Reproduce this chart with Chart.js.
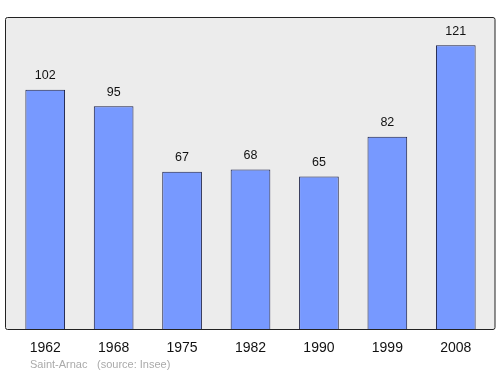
<!DOCTYPE html>
<html>
<head>
<meta charset="utf-8">
<script src="https://cdn.jsdelivr.net/npm/chart.js@4"></script>
<style>
  html, body { margin: 0; padding: 0; background: #fff; }
  #wrap { width: 500px; height: 374px; position: relative; }
</style>
</head>
<body>
<div id="wrap"><canvas id="popChart"></canvas></div>
<script>
// ===== Data =====
const years = ['1962', '1968', '1975', '1982', '1990', '1999', '2008'];
const population = [102, 95, 67, 68, 65, 82, 121];
const townName = 'Saint-Arnac';
const sourceNote = '(source: Insee)';

// frame, value labels and caption
const framePlugin = {
  id: 'frame',
  beforeDatasetsDraw(chart) {
    const { ctx, chartArea } = chart;
    ctx.save();
    ctx.fillStyle = '#ececec';
    ctx.strokeStyle = '#222';
    ctx.lineWidth = 1;
    ctx.beginPath();
    ctx.roundRect(5.5, chartArea.top + 0.5, 489.5, chartArea.bottom - chartArea.top, 2);
    ctx.fill();
    ctx.stroke();
    ctx.restore();
  },
  afterDatasetsDraw(chart) {
    const { ctx } = chart;
    const meta = chart.getDatasetMeta(0);
    ctx.save();
    ctx.font = '12.5px "Liberation Sans", Arial, sans-serif';
    ctx.fillStyle = '#111';
    ctx.textAlign = 'center';
    ctx.textBaseline = 'middle';
    meta.data.forEach((bar, i) => {
      ctx.fillText(population[i], bar.x, bar.y - 14);
    });
    ctx.font = '11px "Liberation Sans", Arial, sans-serif';
    ctx.fillStyle = '#aaa';
    ctx.textAlign = 'left';
    ctx.fillText(townName, 30, 365);
    ctx.fillText(sourceNote, 97, 365);
    ctx.restore();
  }
};

new Chart(document.getElementById('popChart'), {
  type: 'bar',
  data: {
    labels: years,
    datasets: [{
      data: population,
      backgroundColor: '#7799ff',
      borderColor: '#1a1f45',
      borderWidth: 1,
      borderSkipped: 'bottom',
      barPercentage: 0.58,
      categoryPercentage: 1
    }]
  },
  options: {
    responsive: true,
    maintainAspectRatio: false,
    animation: false,
    layout: { padding: { left: 11, right: 10, top: 17, bottom: 0 } },
    plugins: {
      legend: { display: false },
      tooltip: { enabled: false }
    },
    scales: {
      x: {
        offset: true,
        grid: { display: false, drawTicks: false },
        border: { display: false },
        afterFit(scale) { scale.height = 45; },
        ticks: {
          padding: 11,
          color: '#111',
          font: { family: '"Liberation Sans", Arial, sans-serif', size: 14 }
        }
      },
      y: {
        display: false,
        min: 0,
        max: 133
      }
    }
  },
  plugins: [framePlugin]
});
</script>
</body>
</html>
